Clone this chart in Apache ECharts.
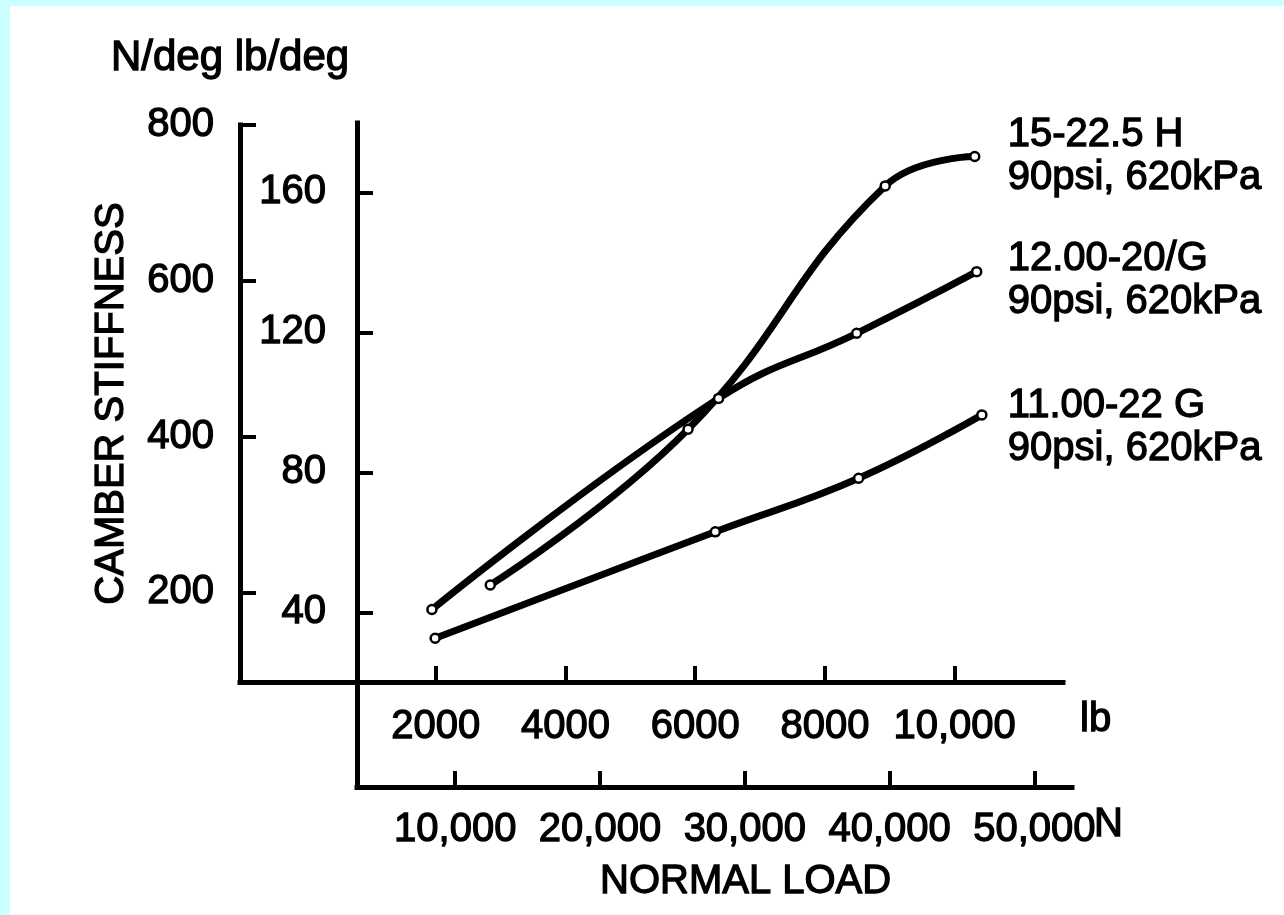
<!DOCTYPE html>
<html>
<head>
<meta charset="utf-8">
<script src="https://cdn.jsdelivr.net/npm/echarts@6/dist/echarts.min.js"></script>
<style>
  html, body { margin: 0; padding: 0; background: #ccffff; }
  #paper { position: absolute; left: 10px; top: 6px; right: 0; bottom: 0; background: #fff; }
  #chart { position: absolute; left: 0; top: 0; width: 1284px; height: 915px; }
</style>
</head>
<body>
<div id="paper"></div>
<div id="chart"></div>
<script>
// tick values and their printed labels
const lbTicks = [2000, 4000, 6000, 8000, 10000];
const lbTickLabels = ["2000", "4000", "6000", "8000", "10,000"];
const newtonTicks = [10000, 20000, 30000, 40000, 50000];
const newtonTickLabels = ["10,000", "20,000", "30,000", "40,000", "50,000"];
const stiffNTicks = [200, 400, 600, 800];
const stiffLbTicks = [40, 80, 120, 160];

// curves: normal load in lb, camber stiffness in lb/deg
const tireNames = ["15-22.5 H\n90psi, 620kPa", "12.00-20/G\n90psi, 620kPa", "11.00-22 G\n90psi, 620kPa"];
const loadH = [2840, 5890, 8930, 10310];
const stiffH = [47.8, 92.3, 161.8, 170.2];
const load12 = [1940, 6360, 8490, 10340];
const stiff12 = [40.8, 101.1, 119.7, 137.3];
const load11 = [1990, 6310, 8520, 10420];
const stiff11 = [32.6, 63.0, 78.3, 96.4];

const font = "Liberation Sans, Arial, Helvetica, sans-serif";
const ink = "#000";

// scanned print is heavier than a plain regular face, so stroke the glyphs a little
const txt = (size, extra) => Object.assign({
  fontFamily: font, fontSize: size, fontWeight: "normal", color: ink,
  textBorderColor: ink, textBorderWidth: 1.3
}, extra || {});

function pairs(xs, ys) {
  return xs.map((x, i) => [x, ys[i]]);
}

function pick(ticks, labels) {
  return (value) => labels[ticks.indexOf(value)] ?? "";
}

const axisLine = { show: true, onZero: false, lineStyle: { color: ink, width: 5, cap: "square" } };
const tick = (values) => ({ show: true, inside: true, length: 16, customValues: values, lineStyle: { color: ink, width: 4 } });

function lineSeries(xs, ys, name, gap, shift) {
  return {
    type: "line",
    xAxisIndex: 0,
    yAxisIndex: 1,
    data: pairs(xs, ys),
    smooth: 0.45,
    symbol: "circle",
    symbolSize: 9,
    lineStyle: { color: ink, width: 7 },
    itemStyle: { color: "#fff", borderColor: ink, borderWidth: 2.5 },
    endLabel: txt(40, {
      show: true,
      formatter: name,
      distance: gap,
      offset: [0, shift],
      lineHeight: 43
    })
  };
}

const chart = echarts.init(document.getElementById("chart"), null, { renderer: "canvas" });
chart.setOption({
  animation: false,
  backgroundColor: "transparent",
  textStyle: { fontFamily: font, color: ink },
  title: [
    { text: "N/deg lb/deg", left: 111, top: 37, padding: 0, textStyle: txt(42) },
    { text: "NORMAL LOAD", left: 600, top: 862, padding: 0, textStyle: txt(40) }
  ],
  grid: [
    { left: 240, top: 125, right: 221, bottom: 233 },
    { left: 357, top: 123, right: 212, bottom: 128 }
  ],
  xAxis: [
    {
      gridIndex: 0, type: "value", min: -1019, max: 11671,
      splitLine: { show: false },
      axisLine, axisTick: tick(lbTicks),
      axisLabel: txt(40, { customValues: lbTicks, formatter: pick(lbTicks, lbTickLabels), margin: 25 }),
      name: "\nlb", nameLocation: "end", nameGap: 17, nameMoveOverlap: false,
      nameTextStyle: txt(40, { lineHeight: 76 })
    },
    {
      gridIndex: 1, type: "value", min: 3218, max: 52597,
      splitLine: { show: false },
      axisLine, axisTick: tick(newtonTicks),
      axisLabel: txt(40, { customValues: newtonTicks, formatter: pick(newtonTicks, newtonTickLabels), margin: 23 }),
      name: "\nN", nameLocation: "end", nameGap: 22, nameMoveOverlap: false,
      nameTextStyle: txt(40, { lineHeight: 76 })
    }
  ],
  yAxis: [
    {
      gridIndex: 0, type: "value", position: "left", min: 85, max: 800,
      splitLine: { show: false },
      axisLine, axisTick: tick(stiffNTicks),
      axisLabel: txt(40, { customValues: stiffNTicks, margin: 26 }),
      name: "CAMBER STIFFNESS", nameLocation: "middle", nameRotate: 90, nameGap: 108,
      nameTextStyle: txt(40)
    },
    { gridIndex: 0, type: "value", show: false, min: 20.1, max: 179.2 },
    {
      gridIndex: 1, type: "value", position: "left", min: -9.9, max: 179.8,
      splitLine: { show: false },
      axisLine, axisTick: tick(stiffLbTicks),
      axisLabel: txt(40, { customValues: stiffLbTicks, margin: 31 })
    }
  ],
  series: [
    lineSeries(loadH, stiffH, tireNames[0], 33, 0),
    lineSeries(load12, stiff12, tireNames[1], 31, 9),
    lineSeries(load11, stiff11, tireNames[2], 26, 13)
  ]
});
</script>
</body>
</html>
